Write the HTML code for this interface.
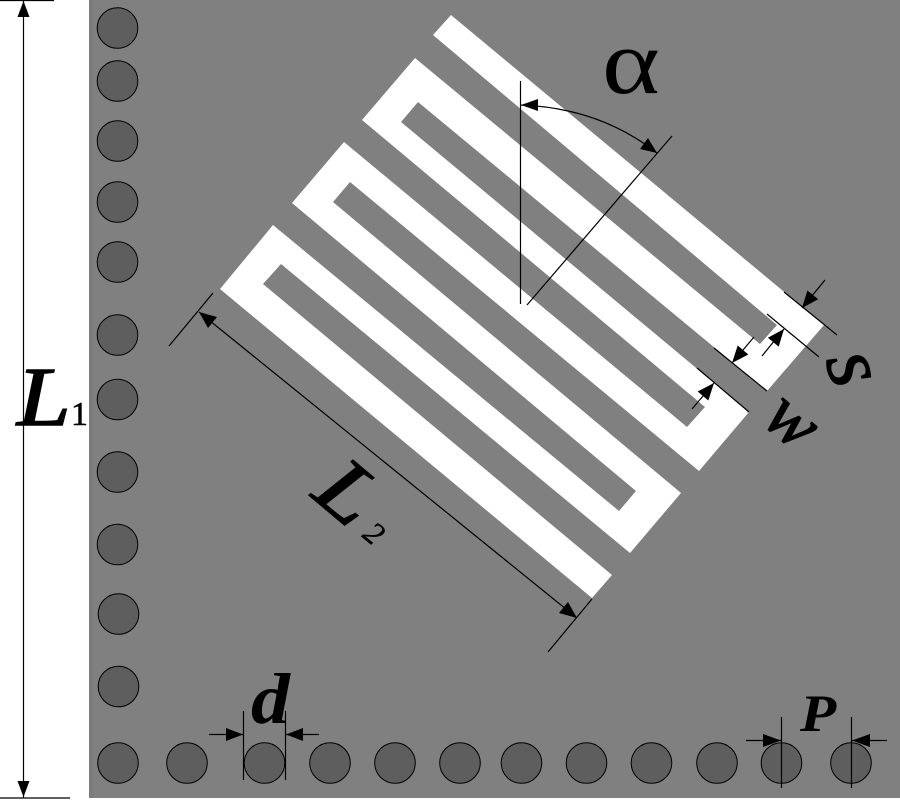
<!DOCTYPE html>
<html>
<head>
<meta charset="utf-8">
<style>
html,body{margin:0;padding:0;background:#fff;width:900px;height:800px;overflow:hidden}
svg{display:block}
text{font-family:"Liberation Serif",serif;fill:#000;stroke:#000}
.b{font-weight:bold;font-style:italic;stroke-width:0}
.i{font-style:italic}
</style>
</head>
<body>
<svg width="900" height="800" viewBox="0 0 900 800" xmlns="http://www.w3.org/2000/svg">
<rect width="900" height="800" fill="#fff"/>
<rect x="89" y="0" width="811" height="798" fill="#808080"/>
<rect x="89" y="0" width="4" height="798" fill="#7b7b7b"/>
<polygon fill="#fff" points="592,598 220,289 273,225 619,511 636,491 292,203 344,142 687,427 705,407 362,120 415,58 760,344 777,325 433,35 451,15 824,325 767,391 418,102 401,122 749,412 699,471 350,182 333,202 681,493 630,553 281,264 263,284 612,575"/>
<g fill="#5e5e5e" stroke="#000" stroke-width="1">
<circle cx="117.5" cy="28" r="20.3"/><circle cx="117.5" cy="81" r="20.3"/><circle cx="117.5" cy="141" r="20.3"/><circle cx="117.5" cy="202" r="20.3"/><circle cx="117.5" cy="262" r="20.3"/><circle cx="117.5" cy="335" r="20.3"/><circle cx="117.5" cy="399.5" r="20.3"/><circle cx="117.5" cy="472" r="20.3"/><circle cx="117.5" cy="544.5" r="20.3"/><circle cx="118.5" cy="614" r="20.3"/><circle cx="118.5" cy="686.5" r="20.3"/>
<circle cx="118" cy="763" r="20.3"/><circle cx="187" cy="763" r="20.3"/><circle cx="264.5" cy="763" r="20.3"/><circle cx="330" cy="763" r="20.3"/><circle cx="395" cy="763" r="20.3"/><circle cx="460" cy="763" r="20.3"/><circle cx="521.5" cy="763" r="20.3"/><circle cx="586.5" cy="763" r="20.3"/><circle cx="651.5" cy="763" r="20.3"/><circle cx="717" cy="763" r="20.3"/><circle cx="781.5" cy="763" r="20.3"/><circle cx="851" cy="763" r="20.3"/>
</g>
<g stroke="#000" stroke-width="1.2" fill="none">
<path d="M23.5 0V798M0 0.5H54M0 798H70"/>
<path d="M169 346L213 293M548 652L592 599M199 312L577 618"/>
<path d="M520.5 81V304M672 136L527 305M521 105Q600 108 657 153"/>
<path d="M784 292L837 335M767 314L819 357M714 348L767 391M697 368L749 412"/>
<path d="M825 280L802 308M762 356L784 329M754 337L732 363M692 409L714 383"/>
<path d="M243.5 711V780M285.5 711V780M209 734.5H243M319 734.5H286"/>
<path d="M781.5 717V788M851.5 717V788M746 740.5H781M887 740.5H852"/>
</g>
<g fill="#000">
<polygon points="23.5,1 17.5,17 29.5,17"/>
<polygon points="23.5,797 17.5,781 29.5,781"/>
<polygon points="199,312 217,317 208,328"/>
<polygon points="577,618 559,613 568,602"/>
<polygon points="521,105 538,99 538,111"/>
<polygon points="657,153 640,149 648,138"/>
<polygon points="802,308 818.2,299.3 807.4,290.5"/>
<polygon points="784,329 778.7,346.6 767.9,337.8"/>
<polygon points="732,363 748.3,354.5 737.7,345.5"/>
<polygon points="714,383 708.3,400.5 697.7,391.5"/>
<polygon points="243,734.5 226,728 226,741"/>
<polygon points="286,734.5 303,728 303,741"/>
<polygon points="781,740.5 763,734 763,747"/>
<polygon points="852,740.5 870,734 870,747"/>
</g>
<text class="i" font-size="84" stroke-width="1.5" transform="translate(17,425) scale(1.15,1)">L</text>
<text x="71" y="425" font-size="34" stroke-width="0.6">1</text>
<text font-size="92" stroke-width="0" transform="translate(602,93) scale(1.2,1)">α</text>
<text class="b" font-size="72" transform="translate(251,723) scale(1.08,1)">d</text>
<text class="b" font-size="53" transform="translate(800,731) scale(1.12,1)">P</text>
<g transform="translate(310,496) rotate(40)">
<text class="i" font-size="84" stroke-width="1.5" transform="scale(1.15,1)">L</text>
<text class="i" x="65" y="-2" font-size="32" stroke-width="0.5">2</text>
</g>
<text class="i" font-size="84" stroke-width="1.2" transform="translate(825,360) rotate(72)">s</text>
<text class="i" font-size="72" stroke-width="1.2" transform="translate(760,422) rotate(40)">w</text>
</svg>
</body>
</html>
